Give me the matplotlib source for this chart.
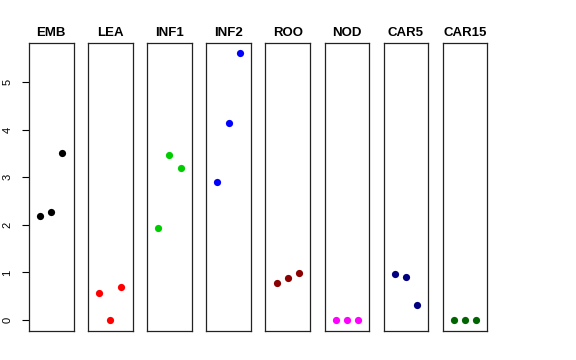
import matplotlib
matplotlib.use("Agg")
import matplotlib.pyplot as plt

plt.rcParams['font.family'] = ['Liberation Sans', 'DejaVu Sans']

categories = ["EMB", "LEA", "INF1", "INF2", "ROO", "NOD", "CAR5", "CAR15"]
colors = ["#000000", "#FF0000", "#00CD00", "#0000FF", "#8B0000", "#FF00FF", "#000080", "#006400"]
values = {
    "EMB":   [2.18, 2.27, 3.51],
    "LEA":   [0.57, 0.00, 0.70],
    "INF1":  [1.93, 3.47, 3.19],
    "INF2":  [2.90, 4.14, 5.61],
    "ROO":   [0.78, 0.88, 0.99],
    "NOD":   [0.00, 0.00, 0.00],
    "CAR5":  [0.97, 0.90, 0.32],
    "CAR15": [0.00, 0.00, 0.00],
}
yticks = [0, 1, 2, 3, 4, 5]
xpos = [1, 2, 3]

W, H = 576, 360
fig = plt.figure(figsize=(W / 100, H / 100), dpi=100)

left0 = 29
width = 44.5
step = 59.1
top = 43
bottom = 331

for i, (cat, col) in enumerate(zip(categories, colors)):
    l = left0 + i * step
    ax = fig.add_axes([l / W, 1 - bottom / H, width / W, (bottom - top) / H])
    ax.plot(xpos, values[cat], 'o', color=col, markersize=5.2, markeredgewidth=0)
    ax.set_xlim(0, 4)
    ax.set_ylim(-0.23, 5.82)
    ax.set_xticks([])
    for s in ax.spines.values():
        s.set_linewidth(0.9)
        s.set_color('#222222')
    ax.set_title(cat, fontsize=9.5, fontweight='bold', pad=5)
    if i == 0:
        ax.set_yticks(yticks)
        ax.set_yticklabels([str(t) for t in yticks], fontsize=8)
        ax.tick_params(axis='y', length=5, width=0.8, pad=7, labelrotation=90)
        for lab in ax.get_yticklabels():
            lab.set_va('center')
    else:
        ax.set_yticks([])

fig.savefig("out.png", dpi=100)
